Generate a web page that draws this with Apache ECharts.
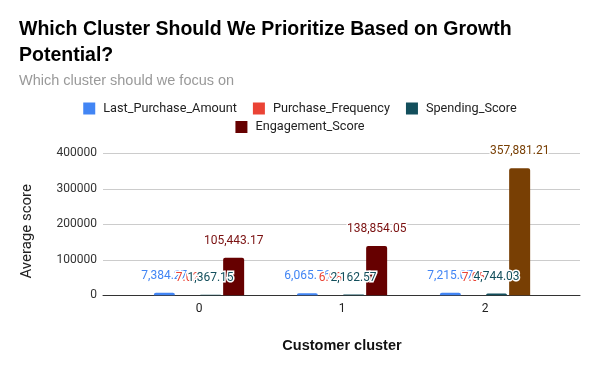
<!DOCTYPE html>
<html>
<head>
<meta charset="utf-8">
<script src="https://cdn.jsdelivr.net/npm/echarts@6/dist/echarts.min.js"></script>
<style>
html,body{margin:0;padding:0;background:#fff;}
#chart{width:600px;height:371px;}
</style>
</head>
<body>
<div id="chart"></div>
<script>
var categories = ['0', '1', '2'];
var lastPurchaseAmount = [7384.27, 6065.76, 7215.07];
var purchaseFrequency = [7.02, 6.98, 7.05];
var spendingScore = [1367.15, 2162.57, 4744.03];
var engagementScore = [105443.17, 138854.05, 357881.21];
var yTicks = [0, 100000, 200000, 300000, 400000];

var seriesNames = ['Last_Purchase_Amount', 'Purchase_Frequency', 'Spending_Score', 'Engagement_Score'];
var seriesColors = ['#4285f4', '#ea4335', '#134f5c', '#660000'];
var highlightColor = '#783f04';

function fmt(v) {
  return v.toLocaleString('en-US', {minimumFractionDigits: 2, maximumFractionDigits: 2});
}

var chart = echarts.init(document.getElementById('chart'), null, {renderer: 'canvas'});

var TOP = 153.3, BOTTOM = 371 - 295.3;

function makeSeries(name, data, color) {
  return {
    name: name,
    type: 'bar',
    xAxisIndex: 1,
    yAxisIndex: 1,
    barWidth: 21,
    barGap: '10%',
    z: 2,
    itemStyle: {color: color, borderRadius: [2, 2, 0, 0]},
    label: {
      show: true,
      position: 'top',
      distance: 11,
      fontFamily: 'Roboto',
      fontSize: 12,
      color: color,
      textBorderColor: '#fff',
      textBorderWidth: 3,
      formatter: function (p) { return fmt(p.value); }
    },
    data: data.map(function (v) { return v; })
  };
}

var series = [
  makeSeries(seriesNames[0], lastPurchaseAmount, seriesColors[0]),
  makeSeries(seriesNames[1], purchaseFrequency, seriesColors[1]),
  makeSeries(seriesNames[2], spendingScore, seriesColors[2]),
  makeSeries(seriesNames[3], engagementScore, seriesColors[3])
];
// highlight the largest engagement bar (cluster 2)
series[3].data = engagementScore.map(function (v, i) {
  if (i === 2) {
    return {value: v, itemStyle: {color: highlightColor}, label: {color: highlightColor}};
  }
  return v;
});
series[3].label.color = '#7a1010';

var legendTextStyle = {fontFamily: 'Roboto', fontSize: 12.7, color: '#222', padding: [0, 0, 0, 3]};

chart.setOption({
  animation: false,
  backgroundColor: '#fff',
  color: seriesColors,
  title: [
    {
      text: 'Which Cluster Should We Prioritize Based on Growth\nPotential?',
      left: 19, top: 17, padding: 0,
      textStyle: {fontFamily: 'Liberation Sans', fontWeight: 'bold', fontSize: 19.5, lineHeight: 26, color: '#000'}
    },
    {
      text: 'Which cluster should we focus on',
      left: 19, top: 73, padding: 0,
      textStyle: {fontFamily: 'Liberation Sans', fontWeight: 'normal', fontSize: 14.5, color: '#999'}
    }
  ],
  legend: [
    {
      data: seriesNames.slice(0, 3),
      left: 'center', top: 102, padding: 0,
      itemWidth: 12, itemHeight: 12, itemGap: 16,
      icon: 'rect',
      textStyle: legendTextStyle
    },
    {
      data: seriesNames.slice(3),
      left: 'center', top: 120.5, padding: 0,
      itemWidth: 12, itemHeight: 12, itemGap: 16,
      icon: 'rect',
      textStyle: legendTextStyle
    }
  ],
  grid: [
    {left: 103, right: 20, top: TOP, bottom: BOTTOM, containLabel: false},
    {left: 127.5, right: 43.5, top: TOP, bottom: BOTTOM, containLabel: false}
  ],
  xAxis: [
    {
      type: 'category', gridIndex: 0, data: [''],
      axisLine: {show: true, lineStyle: {color: '#333', width: 1}},
      axisTick: {show: false}, axisLabel: {show: false}
    },
    {
      type: 'category', gridIndex: 1, data: categories,
      axisLine: {show: false}, axisTick: {show: false},
      axisLabel: {fontFamily: 'Roboto', fontSize: 12, color: '#222', margin: 8},
      name: 'Customer cluster', nameLocation: 'middle', nameGap: 43,
      nameTextStyle: {fontFamily: 'Liberation Sans', fontWeight: 'bold', fontSize: 14.5, color: '#111'}
    }
  ],
  yAxis: [
    {
      type: 'value', gridIndex: 0, min: yTicks[0], max: yTicks[yTicks.length - 1], interval: yTicks[1] - yTicks[0],
      axisLine: {show: false}, axisTick: {show: false},
      axisLabel: {fontFamily: 'Roboto', fontSize: 12, color: '#333', margin: 6,
        formatter: function (v) { return String(v); }},
      splitLine: {lineStyle: {color: '#ccc', width: 1}},
      name: 'Average score', nameLocation: 'middle', nameGap: 68, nameRotate: 90,
      nameTextStyle: {fontFamily: 'Roboto', fontSize: 15, color: '#222', padding: [0, 14, 0, 0]}
    },
    {
      type: 'value', gridIndex: 1, min: yTicks[0], max: yTicks[yTicks.length - 1], interval: yTicks[1] - yTicks[0],
      show: false, splitLine: {show: false}
    }
  ],
  series: series
});
</script>
</body>
</html>
